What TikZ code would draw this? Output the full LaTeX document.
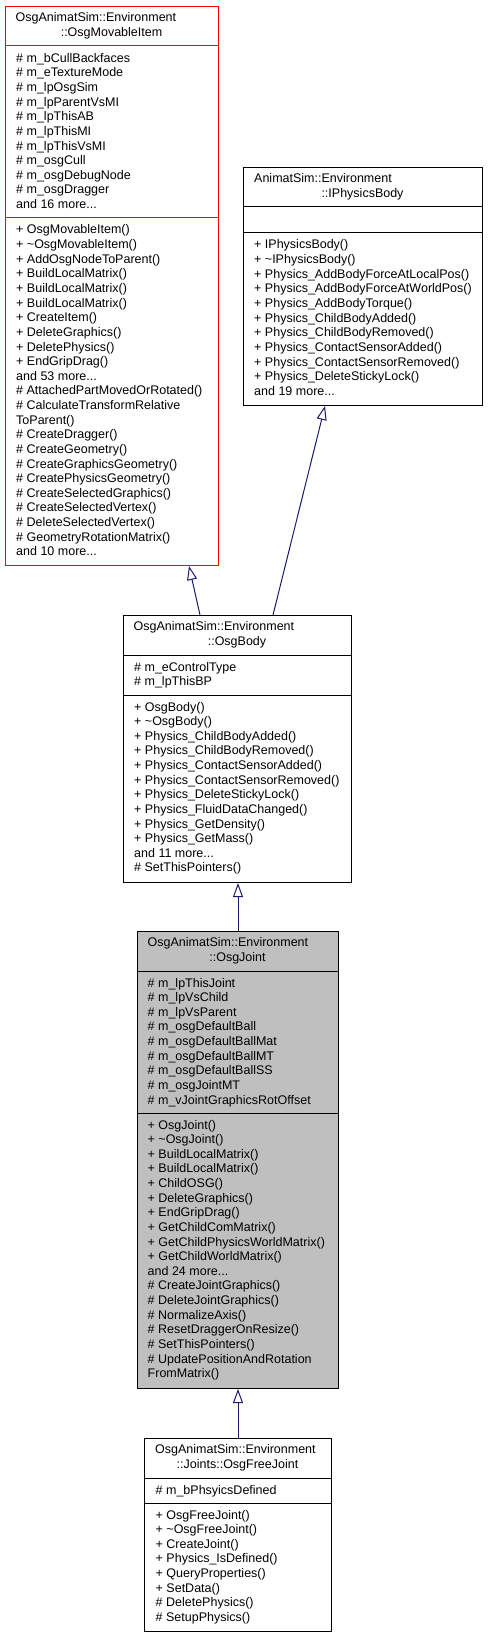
\documentclass[tikz,border=0pt]{standalone}
\usepackage{fontspec}
\setmainfont{Liberation Sans}
\usetikzlibrary{arrows.meta}
\definecolor{edgeblue}{HTML}{191970}
\definecolor{boxred}{HTML}{FF0000}
\definecolor{boxgrey}{HTML}{BFBFBF}
\tikzset{
  classbox/.style={draw=black, line width=1pt, fill=white, rectangle, inner sep=0pt, anchor=north west},
  txt/.style={inner sep=0pt, font=\fontsize{12.5pt}{14.63pt}\selectfont},
  sepline/.style={line width=1pt},
  inherit/.style={draw=edgeblue, line width=1pt, -{Triangle[open, length=14pt, width=10pt, line width=1pt]}}
}
\newcommand\moredots{...}
% #1 name prefix, #2 x, #3 first baseline y, #4 list of lines
\newcommand\mlines[4]{%
  \foreach \t [count=\i from 0] in {#4} {
    \node[txt, anchor=base west] (#1-\i) at (#2, {#3+\i*14.63}) {\t};
  }}
\begin{document}
\begin{tikzpicture}[x=1pt, y=-1pt]
\useasboundingbox[fill=white] (0,0) rectangle (487,1637);

% ---------- OsgMovableItem ----------
\node[classbox, draw=boxred, minimum width=213pt, minimum height=559pt] (movable) at (5,6) {};
\draw[sepline, boxred] (movable.west |- 0,46) -- (movable.east |- 0,46);
\draw[sepline, boxred] (movable.west |- 0,218) -- (movable.east |- 0,218);
\node[txt, anchor=base west] (movable-t1) at (15.5,21.5) {OsgAnimatSim::Environment};
\node[txt, anchor=base] (movable-t2) at (111.5,36.5) {::OsgMovableItem};
\mlines{movable-a}{16}{62.3}{\# m\_bCullBackfaces,\# m\_eTextureMode,\# m\_lpOsgSim,\# m\_lpParentVsMI,\# m\_lpThisAB,\# m\_lpThisMI,\# m\_lpThisVsMI,\# m\_osgCull,\# m\_osgDebugNode,\# m\_osgDragger,and 16 more\moredots}
\mlines{movable-m}{16}{234}{+ OsgMovableItem(),+ \textasciitilde OsgMovableItem(),+ AddOsgNodeToParent(),+ BuildLocalMatrix(),+ BuildLocalMatrix(),+ BuildLocalMatrix(),+ CreateItem(),+ DeleteGraphics(),+ DeletePhysics(),+ EndGripDrag(),and 53 more\moredots,\# AttachedPartMovedOrRotated(),\# CalculateTransformRelative,ToParent(),\# CreateDragger(),\# CreateGeometry(),\# CreateGraphicsGeometry(),\# CreatePhysicsGeometry(),\# CreateSelectedGraphics(),\# CreateSelectedVertex(),\# DeleteSelectedVertex(),\# GeometryRotationMatrix(),and 10 more\moredots}

% ---------- IPhysicsBody ----------
\node[classbox, minimum width=239pt, minimum height=238pt] (iphys) at (243,167) {};
\draw[sepline] (iphys.west |- 0,207) -- (iphys.east |- 0,207);
\draw[sepline] (iphys.west |- 0,233) -- (iphys.east |- 0,233);
\node[txt, anchor=base west] (iphys-t1) at (254,182.5) {AnimatSim::Environment};
\node[txt, anchor=base] (iphys-t2) at (362.5,197.5) {::IPhysicsBody};
\mlines{iphys-m}{254}{249}{+ IPhysicsBody(),+ \textasciitilde IPhysicsBody(),+ Physics\_AddBodyForceAtLocalPos(),+ Physics\_AddBodyForceAtWorldPos(),+ Physics\_AddBodyTorque(),+ Physics\_ChildBodyAdded(),+ Physics\_ChildBodyRemoved(),+ Physics\_ContactSensorAdded(),+ Physics\_ContactSensorRemoved(),+ Physics\_DeleteStickyLock(),and 19 more\moredots}

% ---------- OsgBody ----------
\node[classbox, minimum width=228pt, minimum height=267pt] (osgbody) at (123,615) {};
\draw[sepline] (osgbody.west |- 0,655) -- (osgbody.east |- 0,655);
\draw[sepline] (osgbody.west |- 0,695) -- (osgbody.east |- 0,695);
\node[txt, anchor=base west] (osgbody-t1) at (133.5,630.5) {OsgAnimatSim::Environment};
\node[txt, anchor=base] (osgbody-t2) at (237,645.5) {::OsgBody};
\mlines{osgbody-a}{134}{671}{\# m\_eControlType,\# m\_lpThisBP}
\mlines{osgbody-m}{134}{711}{+ OsgBody(),+ \textasciitilde OsgBody(),+ Physics\_ChildBodyAdded(),+ Physics\_ChildBodyRemoved(),+ Physics\_ContactSensorAdded(),+ Physics\_ContactSensorRemoved(),+ Physics\_DeleteStickyLock(),+ Physics\_FluidDataChanged(),+ Physics\_GetDensity(),+ Physics\_GetMass(),and 11 more\moredots,\# SetThisPointers()}

% ---------- OsgJoint ----------
\node[classbox, fill=boxgrey, minimum width=201pt, minimum height=457pt] (osgjoint) at (137,931) {};
\draw[sepline] (osgjoint.west |- 0,971) -- (osgjoint.east |- 0,971);
\draw[sepline] (osgjoint.west |- 0,1113) -- (osgjoint.east |- 0,1113);
\node[txt, anchor=base west] (osgjoint-t1) at (147.5,946.5) {OsgAnimatSim::Environment};
\node[txt, anchor=base] (osgjoint-t2) at (237.5,961.5) {::OsgJoint};
\mlines{osgjoint-a}{147.5}{987}{\# m\_lpThisJoint,\# m\_lpVsChild,\# m\_lpVsParent,\# m\_osgDefaultBall,\# m\_osgDefaultBallMat,\# m\_osgDefaultBallMT,\# m\_osgDefaultBallSS,\# m\_osgJointMT,\# m\_vJointGraphicsRotOffset}
\mlines{osgjoint-m}{147.5}{1129}{+ OsgJoint(),+ \textasciitilde OsgJoint(),+ BuildLocalMatrix(),+ BuildLocalMatrix(),+ ChildOSG(),+ DeleteGraphics(),+ EndGripDrag(),+ GetChildComMatrix(),+ GetChildPhysicsWorldMatrix(),+ GetChildWorldMatrix(),and 24 more\moredots,\# CreateJointGraphics(),\# DeleteJointGraphics(),\# NormalizeAxis(),\# ResetDraggerOnResize(),\# SetThisPointers(),\# UpdatePositionAndRotation,FromMatrix()}

% ---------- OsgFreeJoint ----------
\node[classbox, minimum width=187pt, minimum height=193pt] (freejoint) at (144,1438) {};
\draw[sepline] (freejoint.west |- 0,1478) -- (freejoint.east |- 0,1478);
\draw[sepline] (freejoint.west |- 0,1503) -- (freejoint.east |- 0,1503);
\node[txt, anchor=base west] (freejoint-t1) at (155,1453.5) {OsgAnimatSim::Environment};
\node[txt, anchor=base] (freejoint-t2) at (237.5,1468.5) {::Joints::OsgFreeJoint};
\mlines{freejoint-a}{155.5}{1494}{\# m\_bPhsyicsDefined}
\mlines{freejoint-m}{155.5}{1519}{+ OsgFreeJoint(),+ \textasciitilde OsgFreeJoint(),+ CreateJoint(),+ Physics\_IsDefined(),+ QueryProperties(),+ SetData(),\# DeletePhysics(),\# SetupPhysics()}

% ---------- inheritance connectors ----------
\draw[inherit] ([xshift=77pt]osgbody.north west) -- ([xshift=184pt]movable.south west);
\draw[inherit] ([xshift=150pt]osgbody.north west) -- ([xshift=82pt]iphys.south west);
\draw[inherit] (osgjoint.north) -- (osgjoint.north |- osgbody.south);
\draw[inherit] (freejoint.north) -- (freejoint.north |- osgjoint.south);
\end{tikzpicture}
\end{document}
